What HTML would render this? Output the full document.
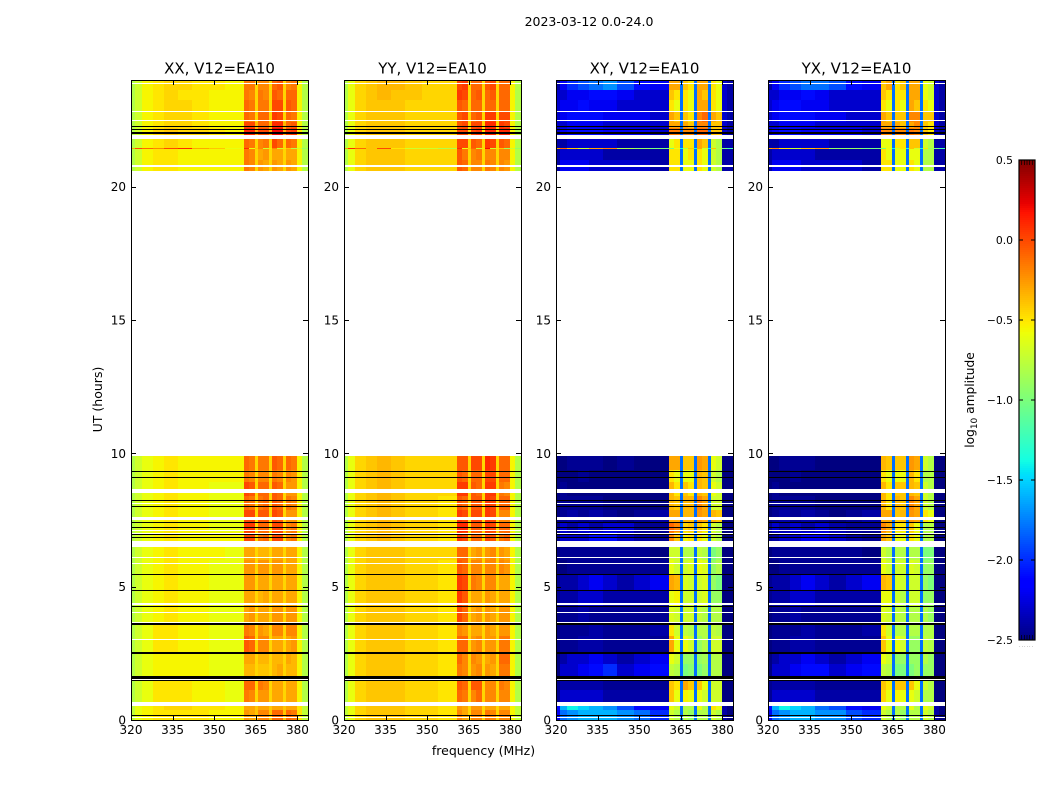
<!DOCTYPE html>
<html lang="en">
<head>
<meta charset="utf-8">
<title>2023-03-12 0.0-24.0</title>
<style>
html,body{margin:0;padding:0;background:#fff;width:1050px;height:800px;overflow:hidden}
svg{display:block}
text{font-family:"DejaVu Sans","Liberation Sans",sans-serif;fill:#000}
</style>
</head>
<body>
<svg id="figure" width="1050" height="800" viewBox="0 0 1050 800" xmlns="http://www.w3.org/2000/svg">
  <text x="589" y="26" text-anchor="middle" font-size="12.5">2023-03-12 0.0-24.0</text>
  <text x="483.5" y="755" text-anchor="middle" font-size="12.5">frequency (MHz)</text>
  <text x="102" y="399.5" text-anchor="middle" font-size="12.5" transform="rotate(-90 102 399.5)">UT (hours)</text>
  <text x="974" y="400" text-anchor="middle" font-size="12.2" transform="rotate(-90 974 400)">log<tspan font-size="9" dy="3">10</tspan><tspan dy="-3"> amplitude</tspan></text>
  <g id="panels"></g>
  <g id="colorbar"></g>
  <text x="1026.5" y="647" text-anchor="middle" font-size="5" letter-spacing="0.9" style="fill:#777">......</text>
</svg>
<script>
// Frequency bin edges (MHz)
const freqEdges = [320,321.5,324,328,332,337,342,348,354,360.7,362.7,364.7,365.8,367.7,369.7,370.7,372.7,374.8,375.7,377.7,379.7,381.6,383.8];
// Time row limits (UT hours), listed from top of the plot downward
const rowStart = [23.63,23.25,22.8,22.43,22.2,21.86,21.46,21.4,21.0,20.59,9.38,8.93,8.4,7.88,7.43,7.05,6.53,6.0,5.48,4.88,4.28,3.68,3.15,2.55,2.1,1.58,1.13,0.68,0.38,0];
const rowEnd   = [24,23.63,23.25,22.8,22.43,22.2,21.86,21.46,21.4,21.0,9.9,9.38,8.93,8.4,7.88,7.43,7.05,6.53,6.0,5.48,4.88,4.28,3.68,3.15,2.55,2.1,1.58,1.13,0.68,0.38];
// Flagged (black) intervals, UT hours
const flagStart = [22.23,22.13,21.97,9.29,9.08,8.2,7.99,7.39,7.19,6.93,6.83,5.44,4.84,4.24,3.56,2.48,1.54,1.47,0.14];
const flagEnd   = [22.28,22.17,22.06,9.33,9.12,8.24,8.03,7.43,7.23,6.97,6.87,5.48,4.88,4.28,3.64,2.56,1.66,1.5,0.18];
// Blank (white) intervals, UT hours
const blankStart = [23.85,22.79,22.45,21.78,20.75,8.6,8.51,8.11,7.49,7.09,6.98,6.68,6.5,6.08,5.86,4.33,4.02,3.64,3.01,1.505,0.52,0.07];
const blankEnd   = [23.89,22.83,22.49,21.92,20.81,8.67,8.57,8.15,7.61,7.13,7.02,6.72,6.68,6.12,5.9,4.37,4.06,3.68,3.05,1.535,0.68,0.11];
// Ticks
const xTicks = [320,335,350,365,380];
const yTicks = [0,5,10,15,20];
const colorbarTicks = [0.5,0,-0.5,-1,-1.5,-2,-2.5];
const colorbarLabels = ['0.5','0.0','\u22120.5','\u22121.0','\u22121.5','\u22122.0','\u22122.5'];
const panelTitles = ['XX, V12=EA10','YY, V12=EA10','XY, V12=EA10','YX, V12=EA10'];
// log10 amplitude x 10, rows top-to-bottom, columns follow freqEdges
const xxValues = [
[-8,-7,-5.5,-5,-4.5,-4.5,-5,-5,-5.5,-1.5,-1.5,-4.5,-2,-2,-4.5,-1,-0.5,-4.5,-2,-1.5,-5.5,-8],
[-8,-7,-5.5,-5,-4.5,-5,-5,-5.5,-5.5,-1.5,-2,-4.5,-1.5,-2,-4.5,-0.5,-1,-4.5,-1,-1,-5.5,-8],
[-8,-7,-5.5,-5,-4.5,-4.5,-5,-5.5,-5.5,-1,-1.5,-4.5,-1.5,-1.5,-4.5,0,0,-4.5,-0.5,-1,-5.5,-8],
[-8,-7,-5.5,-5,-4.5,-4.5,-5,-5.5,-5.5,-1,-1.5,-4.5,-1,-1,-4.5,0.5,0,-4.5,-1,-1.5,-5.5,-8],
[-8,-7,-5.5,-5,-4.5,-4.5,-5,-5.5,-5.5,0,0,-3.5,-1,-1,-3.5,1,1,-3.5,-1,-0.5,-5.5,-8],
[-8,-7,-5.5,-4.5,-4,-4.5,-4.5,-5,-5.5,1,1,-3,0,0,-3,2,2,-3,0,0.5,-5,-8],
[-8,-7,-5.5,-5,-4.5,-5,-5.5,-5.5,-5.5,-1,-1.5,-4.5,-2,-1.5,-4.5,0,-1,-4.5,-1,-1.5,-5.5,-8],
[-3,0,-1,-2,0,1,-3,-4,-6,1,-6,-4,-2,-7,-5,-2,-7,-5,-4,-8,-7,-9],
[-8,-7,-5.5,-5,-5,-5.5,-5.5,-5.5,-5.5,-1.5,-2,-4.5,-3,-2.5,-4.5,-3,-3,-4.5,-3,-3,-5.5,-8],
[-8,-7,-5.5,-5,-5,-5.5,-5.5,-5.5,-5.5,-1.5,-2,-4.5,-2.5,-3,-4.5,-2.5,-3,-4.5,-2.5,-3,-5.5,-8],
[-8,-7,-6,-5.5,-5,-5.5,-5.5,-5.5,-5.5,-1,-1.5,-4.5,-1.5,-1.5,-4.5,-0.5,-1,-4.5,-1,-1.5,-5.5,-8],
[-8,-7,-6,-5.5,-5,-5.5,-5.5,-5.5,-5.5,-1.5,-2,-4.5,-2,-2,-4.5,-1.5,-2,-4.5,-2,-2.5,-5.5,-8],
[-8,-7,-6,-5.5,-5,-5.5,-5.5,-6,-6,0,-0.5,-4.5,-1,-1,-4.5,-0.5,-1,-4.5,-2.5,-2.5,-5.5,-8],
[-8,-7,-6,-5.5,-5,-5.5,-5.5,-6,-6,-1,-1.5,-4.5,-1.5,-1,-4.5,-0.5,-1,-4.5,-1.5,-2,-5.5,-8],
[-8,-7,-6,-5.5,-5,-5.5,-5.5,-6,-6,0,0,-4.5,-0.5,-0.5,-4.5,0,-0.5,-4.5,-2.5,-2.5,-5.5,-8],
[-8,-7,-6,-5.5,-5,-5.5,-5.5,-6,-6,0.5,0.5,-4.5,-1,-1,-4.5,0,0,-4.5,-2,-1.5,-5.5,-8],
[-8,-7,-6,-5.5,-5,-5.5,-5.5,-5.5,-5.5,0,0,-4.5,-1.5,-1,-4.5,0,0,-4.5,-2,-1.5,-5.5,-8],
[-8,-7,-6,-5.5,-5,-5.5,-5.5,-5.5,-6,-3,-3,-4.5,-3.5,-3.5,-4.5,-3,-3,-4.5,-3,-3,-5.5,-8],
[-8,-7,-6,-5.5,-5,-5.5,-5.5,-6,-6,-2.5,-2.5,-4.5,-2.5,-2.5,-4.5,-2.5,-2.5,-4.5,-3,-3,-5.5,-8],
[-8,-7,-6,-5.5,-5,-5.5,-5.5,-6,-6,-2.5,-2.5,-4.5,-3,-3,-4.5,-3,-3,-4.5,-3,-3,-5.5,-8],
[-8,-7,-6,-5.5,-5,-5.5,-5.5,-6,-6,-3,-3,-4.5,-3.5,-3,-4.5,-3,-3,-4.5,-3,-3,-5.5,-8],
[-8,-7,-6,-5.5,-5,-5.5,-5.5,-6,-6,-3,-2.5,-4.5,-3,-3,-4.5,-2.5,-2.5,-4.5,-2.5,-2.5,-5.5,-8],
[-8,-7,-6,-5,-5,-5.5,-5.5,-6,-6,-1.5,-2,-4.5,-2.5,-3,-4.5,-2,-2,-4.5,-2,-2,-5.5,-8],
[-8,-7,-6,-5,-5,-5.5,-5.5,-6,-6,-0.5,-1,-4.5,-2,-2,-4.5,-3,-3,-4.5,-3,-2.5,-5.5,-8],
[-8,-7,-6,-5.5,-5.5,-5.5,-5.5,-6,-6,-3,-3,-4.5,-3.5,-3.5,-4.5,-3.5,-3.5,-4.5,-3,-3.5,-5.5,-8],
[-8,-7,-6,-5.5,-5.5,-5.5,-5.5,-6,-6,-3.5,-3.5,-4.5,-4,-4,-4.5,-3.5,-3,-4.5,-3.5,-3.5,-5.5,-8],
[-8,-7,-6,-5,-5,-5,-5.5,-5.5,-6,-1,-1,-4.5,-1.5,-2,-4.5,-3,-3,-4.5,-3,-3,-5.5,-8],
[-8,-7,-6,-5,-5,-5,-5.5,-5.5,-6,-1.5,-2,-4.5,-2.5,-2.5,-4.5,-3,-3,-4.5,-3,-3,-5.5,-8],
[-7.5,-6,-5.5,-5,-4.5,-4.5,-5,-5,-5.5,-3,-3,-4,-3,-3,-4,-3,-3,-4,-3,-3,-5,-7.5],
[-7.5,-6,-5.5,-5,-5,-5,-5,-5.5,-5.5,-2.5,-3,-4,-2,-2,-4,-1,-1,-4,-1,-1.5,-5,-7.5]
];
const yyValues = [
[-8,-6,-4.5,-4,-3.5,-3.5,-4,-4.5,-4.5,0,0.5,-4.5,-1,-1,-4.5,-0.5,0,-4.5,-1,-1,-5.5,-8],
[-8,-6,-4.5,-4,-3.5,-4,-4,-4.5,-4.5,0.5,0,-4.5,-1,-0.5,-4.5,-1,-0.5,-4.5,-1,-1,-5.5,-8],
[-8,-6,-4.5,-4,-4,-4,-4.5,-4.5,-4.5,-0.5,-1,-4.5,-1,-1,-4.5,-1,-1,-4.5,-1,-1,-5.5,-8],
[-8,-6,-4.5,-4,-4,-4,-4.5,-4.5,-4.5,-0.5,0,-4.5,-1,-0.5,-4.5,0.5,0.5,-4.5,0,0,-5.5,-8],
[-8,-6,-4.5,-4,-4,-4,-4.5,-4.5,-4.5,-0.5,0,-4.5,0,0,-4.5,1,1,-4.5,0.5,0,-5.5,-8],
[-8,-6,-4.5,-4,-4,-4,-4.5,-4.5,-4.5,0,0,-4.5,0,0.5,-4.5,1,1,-4.5,1,1,-5.5,-8],
[-8,-6,-4.5,-4,-4,-4,-4.5,-4.5,-4.5,0,0,-4.5,-0.5,-1,-4.5,0.5,0,-4.5,-0.5,-1,-5.5,-8],
[-3,1,-1,-4,0,-5,-7,-7,-8,1,-6,-4,-1,-7,-5,2,-7,-5,-4,-9,-7,-9],
[-8,-6,-4.5,-4,-4,-4,-4.5,-4.5,-4.5,-0.5,-1.5,-4.5,-2,-1.5,-4.5,-2,-2,-4.5,-2,-2,-5.5,-8],
[-8,-6,-4.5,-4,-4,-4,-4.5,-4.5,-4.5,-0.5,-1,-4.5,-2,-2,-4.5,-1.5,-2,-4.5,-2,-2.5,-5.5,-8],
[-8,-6,-4.5,-4,-3.5,-4,-4.5,-4.5,-4.5,-0.5,-0.5,-4.5,0,0,-4.5,1,0.5,-4.5,-1,-1,-5.5,-8],
[-8,-6,-4.5,-4,-3.5,-4,-4.5,-4.5,-4.5,-0.5,-1,-4.5,-1,-1,-4.5,0,0,-4.5,-1,-1,-5.5,-8],
[-8,-6,-4.5,-4,-3.5,-4,-4.5,-4.5,-4.5,0.5,0.5,-4.5,-0.5,-1,-4.5,0.5,0.5,-4.5,-1.5,-2,-5.5,-8],
[-8,-6,-4.5,-4,-3.5,-4,-4.5,-4.5,-5,-0.5,-1,-4.5,-0.5,-0.5,-4.5,0.5,0,-4.5,-1,-1,-5.5,-8],
[-8,-6,-4.5,-4,-3.5,-4,-4.5,-4.5,-5,0.5,0,-4.5,0,0,-4.5,0.5,0,-4.5,-2,-2,-5.5,-8],
[-8,-6,-4.5,-4,-3.5,-4,-4.5,-4.5,-5,1,1,-4.5,-0.5,-0.5,-4.5,0.5,0,-4.5,-1,-1,-5.5,-8],
[-8,-6,-4.5,-4,-3.5,-4,-4.5,-4.5,-5,0.5,0,-4.5,-1,-1,-4.5,0,-0.5,-4.5,-1.5,-1,-5.5,-8],
[-8,-6,-4.5,-4,-4,-4,-4.5,-4.5,-4.5,-1,-1,-4.5,-3,-2.5,-4.5,-2.5,-2,-4.5,-2.5,-3,-5.5,-8],
[-8,-6,-4.5,-4,-4,-4,-4.5,-4.5,-5,-0.5,-1,-4.5,-2,-2,-4.5,-2,-2,-4.5,-2,-2.5,-5.5,-8],
[-8,-6,-4.5,-4,-4,-4,-4.5,-4.5,-5,0.5,0,-4.5,-1.5,-2,-4.5,-2,-2,-4.5,-3,-3,-5.5,-8],
[-8,-6,-4.5,-4,-4,-4,-4.5,-4.5,-5,0.5,-0.5,-4.5,-3,-3,-4.5,-2.5,-3,-4.5,-3,-3,-5.5,-8],
[-8,-6,-4.5,-4,-4,-4,-4.5,-4.5,-5,0,-1,-4.5,-3,-2.5,-4.5,-2.5,-3,-4.5,-2.5,-2.5,-5.5,-8],
[-8,-6,-4.5,-4,-4,-4,-4.5,-4.5,-5,-2,-2.5,-4.5,-3,-3,-4.5,-2.5,-3,-4.5,-2.5,-2.5,-5.5,-8],
[-8,-6,-4.5,-4,-4,-4,-4.5,-4.5,-5,-1,-1,-4.5,-2.5,-2,-4.5,-2.5,-2.5,-4.5,-1.5,-1.5,-5.5,-8],
[-8,-6,-4.5,-4,-4,-4,-4.5,-4.5,-5,-1,-2,-4.5,-2,-2.5,-4.5,-3,-2.5,-4.5,-1,-1,-5.5,-8],
[-8,-6,-4.5,-4,-4,-4,-4.5,-4.5,-5,-1.5,-2,-4.5,-2.5,-2,-4.5,-2.5,-3,-4.5,-1.5,-1.5,-5.5,-8],
[-8,-6,-4.5,-4,-4,-4,-4.5,-4.5,-5,-0.5,-1,-4.5,-0.5,-0.5,-4.5,-2,-2,-4.5,-1.5,-2,-5.5,-8],
[-8,-6,-4.5,-4,-4,-4,-4.5,-4.5,-5,-1,-1.5,-4.5,-2,-1,-4.5,-2,-2,-4.5,-2,-2,-5.5,-8],
[-7.5,-6,-4.5,-4,-4,-4,-4.5,-4.5,-5,-2.5,-3,-4.5,-2.5,-2.5,-4.5,-3,-3,-4.5,-3,-3,-5.5,-7.5],
[-7.5,-6,-4.5,-4,-4,-4,-4.5,-4.5,-5,-2,-3,-4.5,-2,-2,-4.5,-1.5,-2,-4.5,-2,-2,-5.5,-7.5]
];
const xyValues = [
[-24,-22,-20,-19,-18,-17,-19,-21,-22,-3,-3,-18,-4,-5,-18,-3,-3,-18,-5,-6,-23,-24],
[-23,-23,-22,-22,-21,-21,-22,-23,-23,-4,-5,-18,-5,-6,-18,-3,-4,-18,-5,-6,-23,-24],
[-23,-22,-22,-21,-22,-22,-23,-23,-23,-5,-6,-18,-5,-6,-18,-3,-3,-18,-5,-6,-23,-24],
[-23,-22,-21,-21,-21,-22,-22,-22,-23,-3,-4,-18,-4,-5,-18,-2,-1,-18,-3,-4,-23,-24],
[-23,-23,-22,-22,-22,-23,-23,-23,-23,-3,-3,-18,-3,-4,-18,-2,-2,-18,-4,-4,-23,-24],
[-23,-22,-21,-21,-21,-22,-22,-22,-23,-1.5,-1.5,-18,-2,-2,-18,-1,-1,-18,-4,-4,-23,-24],
[-24,-24,-23,-23,-23,-23,-24,-24,-24,-6,-5,-18,-5,-5,-18,-3,-4,-18,-7,-8,-24,-24],
[-3,-1,-4,-7,-3,-2,-8,-9,-10,-10,-6,-14,-8,-4,-14,-3,-7,-14,-4,-8,-10,-12],
[-24,-23,-23,-23,-23,-24,-24,-24,-24,-5,-5,-18,-6,-5,-18,-5,-6,-18,-7,-8,-24,-24],
[-24,-22,-22,-22,-23,-23,-23,-23,-24,-5,-5,-18,-6,-6,-18,-5,-6,-18,-7,-8,-24,-24],
[-25,-25,-24.5,-24.5,-24.5,-25,-24.5,-25,-25,-3,-3,-18,-4,-4,-18,-2.5,-3,-18,-6,-7,-25,-25],
[-25,-25,-25,-24.5,-25,-25,-25,-25,-25,-5,-6,-18,-6,-6,-18,-3.5,-4,-18,-7,-8,-25,-25],
[-25,-24.5,-25,-25,-25,-25,-25,-25,-25,-3.5,-5,-18,-4,-5,-18,-3.5,-4,-18,-6,-7,-25,-25],
[-25,-24.5,-24.5,-24.5,-24.5,-25,-25,-25,-25,-3.5,-4,-18,-3.5,-3.5,-18,-2,-3,-18,-7,-7,-25,-25],
[-25,-24.5,-24,-24.5,-24,-24.5,-25,-24.5,-24,-3,-3,-18,-3.5,-3.5,-18,-2.5,-3,-18,-3.5,-4,-25,-25],
[-24.5,-23,-24,-23,-24,-23,-23,-24.5,-24.5,-1,-2,-18,-4.5,-4,-18,-4,-5,-18,-7,-8,-25,-25],
[-24.5,-23,-23,-23,-21,-21,-23,-24,-24.5,-2,-4,-18,-5.5,-5,-18,-5,-6,-18,-7,-8,-25,-25],
[-25,-24.5,-24.5,-24.5,-24.5,-24.5,-24.5,-24.5,-25,-7,-7,-18,-8,-8,-18,-7.5,-8,-18,-10,-9,-25,-25],
[-25,-25,-24.5,-24.5,-24.5,-24.5,-24.5,-24.5,-24.5,-6,-7,-18,-7,-6.5,-18,-6,-6.5,-18,-9,-8,-25,-25],
[-24.5,-24,-24,-23,-22,-23,-24,-23,-22,-3,-3.5,-18,-6.5,-7,-18,-7,-6.5,-18,-9,-10,-25,-25],
[-24.5,-24,-24,-23,-23,-24,-24,-24,-24,-6,-5.5,-18,-7,-7,-18,-7,-6.5,-18,-9,-9,-25,-25],
[-25,-24.5,-24.5,-24,-24.5,-24.5,-24.5,-24.5,-24.5,-6.5,-7,-18,-7,-7,-18,-7.5,-8,-18,-8,-8,-25,-25],
[-25,-24.5,-24.5,-24.5,-24,-24.5,-24.5,-24.5,-24,-5,-7,-18,-7.5,-8,-18,-8,-8,-18,-7.5,-8,-25,-25],
[-25,-24.5,-24.5,-24,-24,-24.5,-24.5,-24.5,-24.5,-3,-6,-18,-6,-7,-18,-9,-8,-18,-7,-7,-25,-25],
[-25,-24,-23,-23,-22,-23,-24,-23,-22,-6,-7,-18,-9,-9,-18,-9,-8.5,-18,-8,-8,-25,-25],
[-25,-23,-23,-22,-21,-20,-23,-22,-21,-7.5,-8,-18,-10,-9.5,-18,-10,-9,-18,-8,-8,-25,-25],
[-24.5,-24,-24,-24,-24,-24.5,-24.5,-24.5,-24.5,-4,-5,-18,-3,-4,-18,-4,-6,-18,-7,-7,-25,-25],
[-24.5,-23,-23,-23,-23,-24,-24,-24,-24,-4,-6,-18,-5.5,-6,-18,-6,-7,-18,-7,-7,-25,-25],
[-21,-16,-14,-15,-16,-17,-19,-21,-22,-6,-7,-18,-8,-8,-18,-6,-8,-18,-5,-6,-24,-25],
[-22,-18,-17,-16,-16,-16,-17,-18,-20,-7,-8,-18,-8,-9,-18,-8,-8,-18,-7,-8,-24,-25]
];
const yxValues = [
[-24,-22,-20,-19,-18,-18,-19,-21,-22,-4,-3,-18,-5,-4,-18,-3,-3,-18,-6,-7,-23,-24],
[-23,-23,-22,-22,-21,-22,-23,-23,-23,-4,-5,-18,-5,-5,-18,-3,-3,-18,-6,-7,-23,-24],
[-23,-22,-21,-21,-22,-22,-23,-23,-23,-5,-6,-18,-5,-6,-18,-3,-4,-18,-5,-6,-23,-24],
[-23,-22,-21,-21,-21,-22,-22,-23,-23,-3,-4,-18,-4,-4,-18,-2,-2,-18,-4,-4,-23,-24],
[-23,-23,-22,-22,-22,-23,-23,-23,-23,-3,-3,-18,-3,-4,-18,-3,-2,-18,-4,-5,-23,-24],
[-23,-22,-21,-21,-22,-22,-22,-22,-23,-2,-2,-18,-2,-2,-18,-1.5,-2,-18,-4,-5,-23,-24],
[-24,-24,-23,-23,-23,-23,-24,-24,-24,-6,-6,-18,-5,-5,-18,-4,-4,-18,-7,-8,-24,-24],
[-3,-2,-5,-7,-4,-3,-9,-9,-10,-10,-6,-14,-7,-5,-14,-4,-7,-14,-5,-9,-10,-12],
[-24,-23,-23,-23,-23,-24,-24,-24,-24,-5,-6,-18,-6,-6,-18,-6,-6,-18,-8,-8,-24,-24],
[-24,-22,-22,-22,-23,-23,-23,-23,-24,-5,-5,-18,-6,-6,-18,-5,-6,-18,-8,-8,-24,-24],
[-25,-25,-24.5,-24.5,-24.5,-25,-25,-25,-25,-3.5,-4,-18,-4,-4,-18,-2.5,-3,-18,-7,-8,-25,-25],
[-25,-25,-25,-24.5,-25,-25,-25,-25,-25,-5,-6,-18,-6,-6,-18,-3.5,-5,-18,-8,-8,-25,-25],
[-25,-24.5,-25,-25,-25,-25,-25,-25,-25,-3.5,-5,-18,-4,-4,-18,-3.5,-4,-18,-7,-8,-25,-25],
[-25,-24.5,-24.5,-24.5,-24.5,-25,-25,-25,-25,-3.5,-5,-18,-3.5,-4,-18,-2,-3,-18,-7,-8,-25,-25],
[-25,-24.5,-24,-24.5,-24,-24.5,-25,-24.5,-24,-3,-3,-18,-4,-3.5,-18,-2.5,-3,-18,-5,-6,-25,-25],
[-24.5,-23,-24,-23,-24,-23,-24,-24.5,-24.5,-2,-3,-18,-5,-5,-18,-4,-6,-18,-8,-8,-25,-25],
[-24.5,-24,-23,-23,-22,-22,-23,-24,-24.5,-3,-4,-18,-6,-6,-18,-5,-6,-18,-8,-8,-25,-25],
[-25,-24.5,-24.5,-24.5,-24.5,-24.5,-24.5,-24.5,-25,-7,-8,-18,-8,-8,-18,-8,-8,-18,-10,-10,-25,-25],
[-25,-25,-24.5,-24.5,-24.5,-24.5,-24.5,-24.5,-24.5,-6,-7,-18,-7,-7,-18,-6.5,-7,-18,-9,-9,-25,-25],
[-24.5,-24,-24,-23,-22,-23,-24,-23,-22,-3.5,-4,-18,-6.5,-7,-18,-7,-7,-18,-9,-10,-25,-25],
[-24.5,-24,-24,-23,-23,-24,-24,-24,-24,-6,-6,-18,-7,-8,-18,-7,-7,-18,-9,-9,-25,-25],
[-25,-24.5,-24.5,-24,-24.5,-24.5,-24.5,-24.5,-24.5,-6.5,-7,-18,-7.5,-8,-18,-8,-8,-18,-8,-9,-25,-25],
[-25,-24.5,-24.5,-24.5,-24,-24.5,-24.5,-24.5,-24,-5,-7,-18,-8,-8,-18,-8,-8,-18,-8,-8,-25,-25],
[-25,-24.5,-24.5,-24,-24,-24.5,-24.5,-24.5,-24.5,-4,-6,-18,-6,-7,-18,-9,-9,-18,-7.5,-8,-25,-25],
[-25,-24,-23,-23,-22,-23,-24,-23,-22,-6,-7,-18,-9,-9,-18,-9,-9,-18,-8,-9,-25,-25],
[-25,-23,-23,-22,-21,-21,-23,-22,-21,-7.5,-8,-18,-10,-10,-18,-10,-9,-18,-9,-9,-25,-25],
[-24.5,-24,-24,-24,-24,-24.5,-24.5,-24.5,-24.5,-4,-5,-18,-4,-4,-18,-4,-6,-18,-7,-8,-25,-25],
[-24.5,-23,-23,-23,-23,-24,-24,-24,-24,-4.5,-6,-18,-5.5,-6,-18,-6,-7,-18,-8,-8,-25,-25],
[-21,-16,-14,-15,-16,-18,-19,-21,-22,-6,-7,-18,-8,-8,-18,-6,-8,-18,-6,-7,-24,-25],
[-22,-18,-17,-16,-16,-17,-17,-19,-20,-7,-8,-18,-8,-9,-18,-8,-8,-18,-7,-8,-24,-25]
];
const panelValues = [xxValues, yyValues, xyValues, yxValues];
const panelNames = ['xx','yy','xy','yx'];

const NS = 'http://www.w3.org/2000/svg';
const AX_TOP = 80, AX_BOTTOM = 720, AX_WIDTH = 177;
const FREQ_MIN = 320, FREQ_MAX = 383.8, UT_MIN = 0, UT_MAX = 24;
const VMIN = -2.5, VMAX = 0.5;
const panelLeft = [131, 344, 556, 768];

function xScale(freq, left) { return left + (freq - FREQ_MIN) / (FREQ_MAX - FREQ_MIN) * AX_WIDTH; }
function yScale(hour) { return AX_BOTTOM - (hour - UT_MIN) / (UT_MAX - UT_MIN) * (AX_BOTTOM - AX_TOP); }
function ramp(stops, t) {
  for (let i = 1; i < stops.length; i++) {
    if (t <= stops[i][0]) {
      const a = stops[i - 1], b = stops[i];
      return a[1] + (b[1] - a[1]) * (t - a[0]) / (b[0] - a[0]);
    }
  }
  return stops[stops.length - 1][1];
}
function jet(value) {
  const t = Math.min(1, Math.max(0, (value - VMIN) / (VMAX - VMIN)));
  const r = ramp([[0,0],[.35,0],[.66,1],[.89,1],[1,.5]], t);
  const g = ramp([[0,0],[.125,0],[.375,1],[.64,1],[.91,0],[1,0]], t);
  const b = ramp([[0,.5],[.11,1],[.34,1],[.65,0],[1,0]], t);
  return 'rgb(' + Math.round(r * 255) + ',' + Math.round(g * 255) + ',' + Math.round(b * 255) + ')';
}
function make(tag, parent, props) {
  const el = document.createElementNS(NS, tag);
  for (const k in props) el.setAttribute(k, props[k]);
  parent.appendChild(el);
  return el;
}
function hourBand(group, left, start, end, color) {
  const y1 = Math.round(yScale(end));
  const y2 = Math.max(y1 + 1, Math.round(yScale(start)));
  return make('rect', group, {x: left, y: y1, width: AX_WIDTH, height: y2 - y1, fill: color, 'shape-rendering': 'crispEdges'});
}

const panelsRoot = document.getElementById('panels');
panelLeft.forEach(function (left, p) {
  const g = make('g', panelsRoot, {});
  
  

  const values = panelValues[p];
  values.forEach(function (row, r) {
    const y1 = Math.round(yScale(rowEnd[r]));
    const y2 = Math.round(yScale(rowStart[r]));
    row.forEach(function (v, c) {
      const x1 = Math.round(xScale(freqEdges[c], left));
      const x2 = Math.round(xScale(freqEdges[c + 1], left));
      const cell = make('rect', g, {x: x1, y: y1, width: x2 - x1, height: Math.max(1, y2 - y1), fill: jet(v / 10), 'shape-rendering': 'crispEdges'});
      
      
    });
  });

  blankStart.forEach(function (s, i) {
    const band = hourBand(g, left, s, blankEnd[i], '#fff');
    
    
  });
  flagStart.forEach(function (s, i) {
    const band = hourBand(g, left, s, flagEnd[i], '#000');
    
    
  });

  const frame = make('rect', g, {x: left + 0.5, y: AX_TOP + 0.5, width: AX_WIDTH, height: AX_BOTTOM - AX_TOP, fill: 'none', stroke: '#000', 'stroke-width': 1});
  
  

  xTicks.forEach(function (tick) {
    const x = Math.round(xScale(tick, left)) + 0.5;
    const up = make('line', g, {x1: x, x2: x, y1: AX_BOTTOM, y2: AX_BOTTOM - 5, stroke: '#000'});
    
    
    const down = make('line', g, {x1: x, x2: x, y1: AX_TOP, y2: AX_TOP + 5, stroke: '#000'});
    
    
    const label = make('text', g, {x: xScale(tick, left), y: 734, 'text-anchor': 'middle', 'font-size': 12});
    
    
    label.textContent = tick;
  });
  yTicks.forEach(function (tick) {
    const y = Math.round(yScale(tick)) + 0.5;
    const a = make('line', g, {x1: left, x2: left + 5, y1: y, y2: y, stroke: '#000'});
    
    
    const b = make('line', g, {x1: left + AX_WIDTH, x2: left + AX_WIDTH - 5, y1: y, y2: y, stroke: '#000'});
    
    
    const label = make('text', g, {x: left - 5, y: yScale(tick) + 4.5, 'text-anchor': 'end', 'font-size': 12});
    
    
    label.textContent = tick;
  });

  const title = make('text', g, {x: left + AX_WIDTH / 2, y: 73.5, 'text-anchor': 'middle', 'font-size': 15});
  
  
  title.textContent = panelTitles[p];
});

// Colorbar
const CB_LEFT = 1019, CB_WIDTH = 16, CB_TOP = 160, CB_BOTTOM = 640;
function cbScale(value) { return CB_BOTTOM - (value - VMIN) / (VMAX - VMIN) * (CB_BOTTOM - CB_TOP); }
const cbRoot = document.getElementById('colorbar');
for (let py = CB_TOP; py < CB_BOTTOM; py += 2) {
  const level = VMAX - (py - CB_TOP + 1) / (CB_BOTTOM - CB_TOP) * (VMAX - VMIN);
  const swatch = make('rect', cbRoot, {x: CB_LEFT, y: py, width: CB_WIDTH, height: 2, fill: jet(level), 'shape-rendering': 'crispEdges'});
  
  
}
const cbFrame = make('rect', cbRoot, {x: CB_LEFT, y: CB_TOP, width: CB_WIDTH, height: CB_BOTTOM - CB_TOP, fill: 'none', stroke: '#000', 'stroke-width': 1.2});


colorbarTicks.forEach(function (tick, i) {
  const y = cbScale(tick);
  const a = make('line', cbRoot, {x1: CB_LEFT, x2: CB_LEFT + 4, y1: y, y2: y, stroke: '#000'});
  
  
  const b = make('line', cbRoot, {x1: CB_LEFT + CB_WIDTH, x2: CB_LEFT + CB_WIDTH - 4, y1: y, y2: y, stroke: '#000'});
  
  
  const label = make('text', cbRoot, {x: 1013, y: y + 4, 'text-anchor': 'end', 'font-size': 10.8});
  
  
  label.textContent = colorbarLabels[i];
});
for (let k = 1; k < 6; k++) {
  const x = CB_LEFT + k * CB_WIDTH / 6;
  const t = make('line', cbRoot, {x1: x, x2: x, y1: CB_TOP, y2: CB_TOP + 5, stroke: '#000', 'stroke-width': 0.7});
  
  
  const u = make('line', cbRoot, {x1: x, x2: x, y1: CB_BOTTOM, y2: CB_BOTTOM - 5, stroke: '#000', 'stroke-width': 0.7});
  
  
}
</script>
</body>
</html>
